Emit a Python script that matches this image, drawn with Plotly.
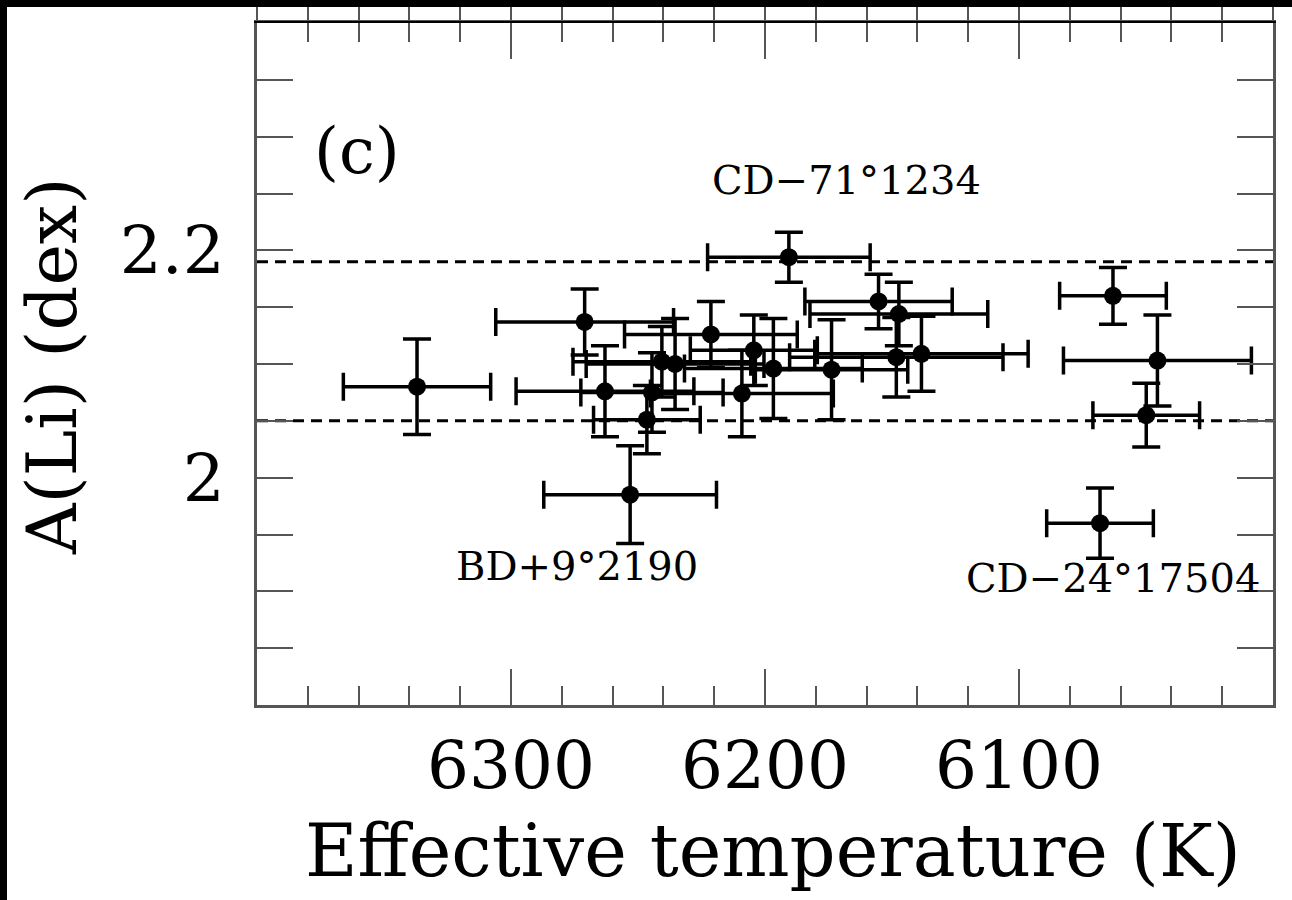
import numpy as np
import plotly.graph_objects as go

# ---- data ----
teff = [6337, 6271, 6263, 6244.5, 6246.5, 6240.6, 6235.4, 6221.3, 6209.1, 6253.1, 6204.4,
        6196.7, 6190.6, 6173.8, 6155.3, 6147.3, 6148.3, 6138.4, 6063.0, 6045.5, 6049.9, 6068.1]
teff_err = [29, 35, 35, 28, 21, 35, 35, 34, 36, 34, 25,
            35, 32, 30, 29, 35, 42, 42, 21, 37, 21, 21]
ali = [2.080, 2.137, 2.076, 2.075, 2.051, 2.102, 2.100, 2.126, 2.074, 1.985, 2.112,
       2.096, 2.194, 2.095, 2.155, 2.144, 2.106, 2.109, 2.160, 2.103, 2.055, 1.960]
ali_err = [0.042, 0.029, 0.040, 0.035, 0.030, 0.031, 0.040, 0.029, 0.038, 0.043, 0.031,
           0.044, 0.022, 0.044, 0.024, 0.028, 0.035, 0.033, 0.025, 0.040, 0.028, 0.031]

band_levels = [2.19, 2.05]

x_ticks = [6300, 6200, 6100]
x_ticktext = ["6300", "6200", "6100"]
y_ticks = [2.0, 2.2]
y_ticktext = ["2", "2.2"]

labels = ["CD\u221271\u00b01234", "BD+9\u00b02190", "CD\u221224\u00b017504", "(c)"]
label_x = [6168, 6274, 6063, 6360.6]
label_y = [2.262, 1.922, 1.912, 2.287]
label_size = [40, 40, 40, 64]

x_range = [6400, 6000]
y_range = [1.8, 2.4]

FONT = "DejaVu Serif"
AX = "#555555"

x_minor = list(np.arange(6000, 6401, 20))
y_minor = list(np.round(np.arange(1.8, 2.4001, 0.05), 3))

fig = go.Figure()

for lv in band_levels:
    fig.add_trace(go.Scatter(
        x=x_range, y=[lv, lv], mode="lines", xaxis="x2",
        line=dict(color="black", width=3, dash="11px,7px"),
        hoverinfo="skip", showlegend=False))

fig.add_trace(go.Scatter(
    x=teff, y=ali, mode="markers",
    marker=dict(color="black", size=18),
    error_x=dict(type="data", array=teff_err, color="black", thickness=3.5, width=14),
    error_y=dict(type="data", array=ali_err, color="black", thickness=3.5, width=14),
    showlegend=False))

W, H = 1292, 900
L, R, T, B = 257, 19, 23, 195
pw, ph = W - L - R, H - T - B

annotations = []
for t, xx, yy, s in zip(labels, label_x, label_y, label_size):
    annotations.append(dict(x=xx, y=yy, xref="x", yref="y", text=t, showarrow=False,
                            font=dict(family=FONT, size=s, color="black"),
                            xanchor="center", yanchor="middle"))
annotations.append(dict(x=(773 - L) / pw, y=(H - B - 851) / ph, xref="paper", yref="paper",
                        text="Effective temperature (K)", showarrow=False,
                        font=dict(family=FONT, size=72, color="black"),
                        xanchor="center", yanchor="middle"))
annotations.append(dict(x=(52 - L) / pw, y=(H - B - 366) / ph, xref="paper", yref="paper",
                        text="A(Li) (dex)", showarrow=False, textangle=-90,
                        font=dict(family=FONT, size=70, color="black"),
                        xanchor="center", yanchor="middle"))

shapes = [
    dict(type="rect", xref="paper", yref="paper",
         x0=-L / pw, x1=-(L - 7) / pw, y0=-B / ph, y1=1 + T / ph,
         fillcolor="black", line=dict(width=0), layer="above"),
    dict(type="rect", xref="paper", yref="paper",
         x0=-L / pw, x1=1 + R / pw, y0=1 + (T - 7) / ph, y1=1 + T / ph,
         fillcolor="black", line=dict(width=0), layer="above"),
]

fig.update_layout(
    width=W, height=H,
    margin=dict(l=L, r=R, t=T, b=B, autoexpand=False),
    paper_bgcolor="white", plot_bgcolor="white",
    showlegend=False,
    xaxis=dict(range=x_range, tickmode="array", tickvals=x_ticks, ticktext=x_ticktext,
               ticks="inside", ticklen=36, tickwidth=2, tickcolor=AX,
               minor=dict(tickmode="array", tickvals=x_minor, ticks="inside", ticklen=19,
                          tickwidth=2, tickcolor=AX, showgrid=False),
               showline=True, linecolor=AX, linewidth=3, mirror="allticks",
               showgrid=False, zeroline=False,
               tickfont=dict(family=FONT, size=66, color="black"),
               ticklabelstandoff=1),
    xaxis2=dict(range=x_range, overlaying="x", side="top", tickmode="array",
                tickvals=x_ticks, showticklabels=False,
                ticks="outside", ticklen=16, tickwidth=2, tickcolor=AX,
                minor=dict(tickmode="array", tickvals=x_minor, ticks="outside", ticklen=16,
                           tickwidth=2, tickcolor=AX, showgrid=False),
                showline=True, linecolor="black", linewidth=2,
                showgrid=False, zeroline=False),
    yaxis=dict(range=y_range, tickmode="array", tickvals=y_ticks, ticktext=y_ticktext,
               ticks="inside", ticklen=36, tickwidth=2, tickcolor=AX,
               minor=dict(tickmode="array", tickvals=y_minor, ticks="inside", ticklen=19,
                          tickwidth=2, tickcolor=AX, showgrid=False),
               showline=True, linecolor=AX, linewidth=3, mirror="allticks",
               showgrid=False, zeroline=False,
               tickfont=dict(family=FONT, size=66, color="black"),
               ticklabelstandoff=16),
    annotations=annotations,
    shapes=shapes,
)

fig.write_html("out.html")
